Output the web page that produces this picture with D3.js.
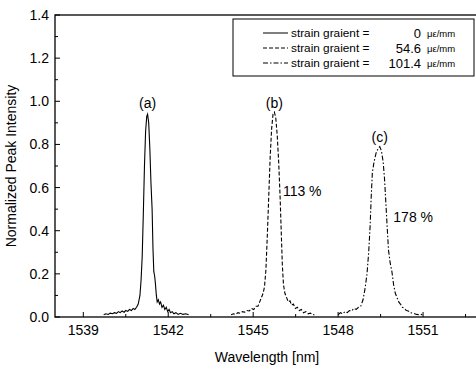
<!DOCTYPE html>
<html><head><meta charset="utf-8">
<script src="https://cdn.jsdelivr.net/npm/d3@7"></script>
<style>body{margin:0;background:#fff}svg{display:block}text{font-family:"Liberation Sans",Arial,sans-serif;fill:#000}</style>
</head><body><svg id="c" width="476" height="368"></svg>
<script>
const xMajorTicks=[1539,1542,1545,1548,1551];
const xMinorTicks=[1540.5,1543.5,1546.5,1549.5,1552.5];
const yMajorTicks=[0,0.2,0.4,0.6,0.8,1.0,1.2,1.4];
const yMinorTicks=[0.1,0.3,0.5,0.7,0.9,1.1,1.3];
const seriesNames=["0","54.6","101.4"];
const seriesA=[[1539.72,0.01],[1539.80,0.015],[1539.88,0.012],[1539.95,0.018],[1540.03,0.015],[1540.10,0.02],[1540.17,0.017],[1540.24,0.025],[1540.30,0.02],[1540.37,0.028],[1540.44,0.022],[1540.50,0.03],[1540.57,0.026],[1540.63,0.035],[1540.70,0.03],[1540.76,0.04],[1540.82,0.035],[1540.88,0.045],[1540.94,0.06],[1541.00,0.10],[1541.04,0.17],[1541.08,0.28],[1541.12,0.48],[1541.16,0.70],[1541.20,0.86],[1541.24,0.93],[1541.27,0.94],[1541.31,0.90],[1541.35,0.78],[1541.39,0.62],[1541.43,0.50],[1541.46,0.32],[1541.49,0.21],[1541.52,0.19],[1541.55,0.15],[1541.58,0.10],[1541.61,0.07],[1541.65,0.08],[1541.69,0.06],[1541.73,0.07],[1541.78,0.045],[1541.83,0.055],[1541.88,0.035],[1541.93,0.045],[1541.98,0.025],[1542.03,0.035],[1542.08,0.02],[1542.14,0.025],[1542.20,0.015],[1542.27,0.02],[1542.35,0.012],[1542.43,0.017],[1542.52,0.012],[1542.62,0.015],[1542.72,0.01]];
const seriesB=[[1544.22,0.01],[1544.30,0.015],[1544.38,0.012],[1544.46,0.02],[1544.54,0.017],[1544.62,0.025],[1544.70,0.022],[1544.78,0.03],[1544.86,0.028],[1544.94,0.04],[1545.02,0.035],[1545.10,0.05],[1545.17,0.05],[1545.23,0.07],[1545.29,0.09],[1545.35,0.11],[1545.40,0.14],[1545.45,0.22],[1545.50,0.38],[1545.55,0.56],[1545.60,0.74],[1545.65,0.87],[1545.70,0.94],[1545.75,0.95],[1545.80,0.92],[1545.85,0.84],[1545.90,0.72],[1545.95,0.56],[1545.99,0.40],[1546.03,0.24],[1546.07,0.15],[1546.12,0.11],[1546.18,0.09],[1546.24,0.07],[1546.30,0.075],[1546.36,0.055],[1546.42,0.06],[1546.49,0.04],[1546.56,0.045],[1546.63,0.03],[1546.70,0.035],[1546.78,0.02],[1546.86,0.025],[1546.94,0.015],[1547.02,0.018],[1547.10,0.012],[1547.16,0.01]];
const seriesC=[[1548.00,0.01],[1548.08,0.02],[1548.16,0.015],[1548.24,0.025],[1548.32,0.02],[1548.40,0.03],[1548.48,0.028],[1548.56,0.04],[1548.64,0.035],[1548.72,0.045],[1548.80,0.05],[1548.88,0.08],[1548.95,0.13],[1549.02,0.20],[1549.08,0.30],[1549.13,0.42],[1549.17,0.56],[1549.21,0.67],[1549.27,0.72],[1549.34,0.76],[1549.41,0.78],[1549.47,0.79],[1549.53,0.77],[1549.59,0.72],[1549.64,0.64],[1549.69,0.52],[1549.74,0.40],[1549.78,0.31],[1549.84,0.25],[1549.90,0.21],[1549.96,0.15],[1550.02,0.11],[1550.08,0.09],[1550.14,0.07],[1550.20,0.06],[1550.27,0.045],[1550.34,0.04],[1550.41,0.03],[1550.48,0.028],[1550.55,0.02],[1550.62,0.018],[1550.70,0.015],[1550.78,0.012],[1550.86,0.01],[1550.93,0.012],[1550.98,0.01]];
const peakLabels=[["(a)",1541.27,0.97],["(b)",1545.75,0.97],["(c)",1549.47,0.81]];
const pctLabels=[["113 %",1546.05,0.56],["178 %",1549.95,0.44]];

const svg=d3.select("#c");
const L=55,T=15,B=317,R=491;
const FS=14;
const x=d3.scaleLinear().domain([1538,1553.4]).range([L,R]);
const y=d3.scaleLinear().domain([0,1.4]).range([B,T]);

svg.append("rect").attr("x",L).attr("y",T).attr("width",R-L).attr("height",B-T).attr("fill","none").attr("stroke","#000").attr("stroke-width",1.3);

const gx=svg.append("g");
xMajorTicks.forEach(v=>{gx.append("line").attr("x1",x(v)).attr("x2",x(v)).attr("y1",B).attr("y2",B-5).attr("stroke","#000");
 gx.append("text").attr("x",x(v)).attr("y",B+18).attr("text-anchor","middle").attr("font-size",FS).text(v);});
xMinorTicks.forEach(v=>{gx.append("line").attr("x1",x(v)).attr("x2",x(v)).attr("y1",B).attr("y2",B-3).attr("stroke","#000");});
const gy=svg.append("g");
yMajorTicks.forEach(v=>{gy.append("line").attr("x1",L).attr("x2",L+5).attr("y1",y(v)).attr("y2",y(v)).attr("stroke","#000");
 gy.append("text").attr("x",49).attr("y",y(v)+5).attr("text-anchor","end").attr("font-size",FS).text(v.toFixed(1));});
yMinorTicks.forEach(v=>{gy.append("line").attr("x1",L).attr("x2",L+3).attr("y1",y(v)).attr("y2",y(v)).attr("stroke","#000");});

svg.append("text").attr("x",267).attr("y",362).attr("text-anchor","middle").attr("font-size",FS).text("Wavelength [nm]");
svg.append("text").attr("transform","translate(16,166) rotate(-90)").attr("text-anchor","middle").attr("font-size",FS).text("Normalized Peak Intensity");

const line=d3.line().x(d=>x(d[0])).y(d=>y(d[1]));
const styles=[null,"4,2","5,2,1.5,2"];
[seriesA,seriesB,seriesC].forEach((s,i)=>{
 svg.append("path").datum(s).attr("d",line).attr("fill","none").attr("stroke","#000").attr("stroke-width",1.1).attr("stroke-dasharray",styles[i]);
});

peakLabels.forEach(p=>svg.append("text").attr("x",x(p[1])).attr("y",y(p[2])).attr("text-anchor","middle").attr("font-size",FS).text(p[0]));
pctLabels.forEach(p=>svg.append("text").attr("x",x(p[1])).attr("y",y(p[2])).attr("font-size",FS).text(p[0]));

const lg=svg.append("g");
lg.append("rect").attr("x",233).attr("y",19).attr("width",241).attr("height",57).attr("fill","#fff").attr("stroke","#000").attr("stroke-width",1);
seriesNames.forEach((n,i)=>{
 const yy=33+i*15;
 lg.append("line").attr("x1",263).attr("x2",288).attr("y1",yy).attr("y2",yy).attr("stroke","#000").attr("stroke-width",1).attr("stroke-dasharray",styles[i]);
 lg.append("text").attr("x",291).attr("y",yy+4).attr("font-size",11.8).text("strain graient =");
 lg.append("text").attr("x",421).attr("y",yy+4.5).attr("text-anchor","end").attr("font-size",13).text(n);
 lg.append("text").attr("x",427).attr("y",yy+4).attr("font-size",9.5).text("\u03bc\u03b5/mm");
});
</script></body></html>
